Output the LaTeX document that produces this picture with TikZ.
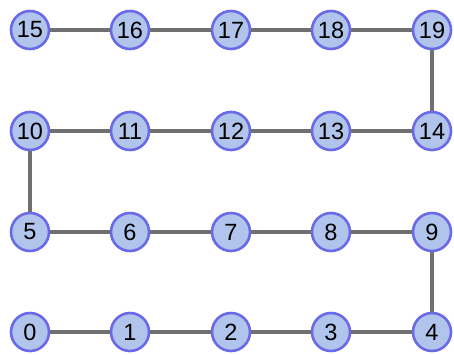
\documentclass[tikz,border=0pt]{standalone}
\usepackage{fontspec}
\setmainfont{Liberation Sans}
\definecolor{nfill}{HTML}{B0C4EC}
\definecolor{nborder}{HTML}{6A6AE8}
\definecolor{edgec}{HTML}{707070}
\begin{document}
\begin{tikzpicture}[x=1pt,y=-1pt,
  vtx/.style={circle,draw=nborder,fill=nfill,line width=2.6pt,minimum size=38pt,inner sep=0pt,font=\fontsize{23.5}{23.5}\selectfont},
  edg/.style={draw=edgec,line width=4pt}]
\useasboundingbox (0,0) rectangle (454,354);
\foreach \i/\x/\y in {0/30/332,1/130/332,2/231/332,3/331/332,4/432/332,
  5/30/232,6/130/232,7/231/232,8/331/232,9/432/232,
  10/30/131,11/130/131,12/231/131,13/331/131,14/432/131,
  15/30/30,16/130/30,17/231/30,18/331/30,19/432/30}
  \node[vtx] (n\i) at (\x,\y) {\i};
\foreach \a/\b in {0/1,1/2,2/3,3/4,4/9,9/8,8/7,7/6,6/5,5/10,10/11,11/12,12/13,13/14,14/19,19/18,18/17,17/16,16/15}
  \path[edg] (n\a) -- (n\b);
\end{tikzpicture}
\end{document}
